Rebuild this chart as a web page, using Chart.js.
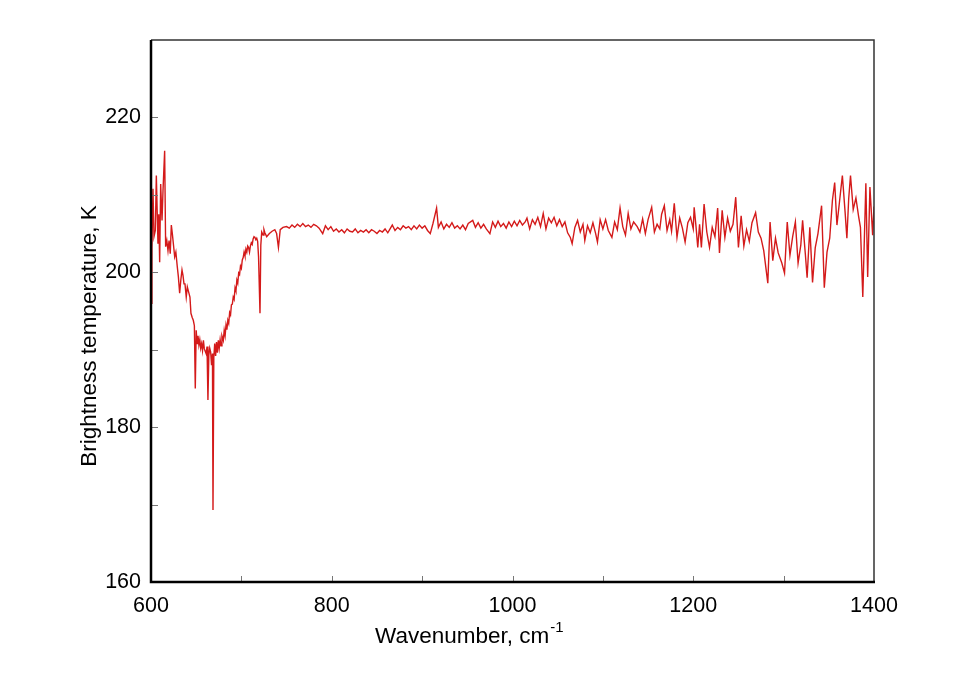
<!DOCTYPE html>
<html>
<head>
<meta charset="utf-8">
<script src="https://cdn.jsdelivr.net/npm/chart.js@4"></script>
<style>
html,body{margin:0;padding:0;background:#fff;}
#wrap{width:960px;height:679px;position:relative;}
</style>
</head>
<body>
<div id="wrap"><canvas id="c" width="960" height="679"></canvas></div>
<script>
const wavenumbers = [600,601,602.2,603.3,604.8,605.9,607.7,608.6,609.6,610.7,612.2,613.3,615.1,616.2,617.5,618.8,620,621.3,622.5,623.6,625,626.2,627.5,629.1,630.3,631.7,633,634.3,635.4,636.5,637.6,639,640.2,641.3,643.1,644.2,645.5,646.8,648,649,650,651,652,653,654,655,656,657,658,659,660,661,662,663,664,665,666,667,668,668.6,669.5,670.5,671.5,672.5,673.5,674.5,675.5,676.5,677.5,678.5,680,681,682,683,684,685,686,687,688,689,690,691,692,693,694,695,696,697,698,699,700,701,702,703,704,705,706,707,708,709,710,711,712,713,714,715,716,717,718,719,720.6,721.5,722.5,724,725,726,728,731,734,737,739,741,743,746,750,753,756,759,762,765,768,771,774,777,780,783,786,790,793,796,799,802,805,808,811,814,817,820,823,826,829,832,835,838,841,844,847,850,853,856,859,862,865,867,870,873,876,879,882,885,888,891,894,897,900,903,906,909,912,916,918,921,924,927,930,933,936,939,942,945,948,951,956,959,962,965,968,971,975,978,981,984,987,990,993,996,999,1002,1005,1008,1011,1014,1016,1019,1022,1025,1028,1031,1034,1037,1040,1043,1046,1049,1052,1055,1058,1061,1064,1066,1069,1072,1075,1078,1080,1083,1086,1089,1092,1094,1097,1100,1103,1106,1110,1113,1116,1119,1122,1125,1128,1131,1134,1138,1141,1144,1147,1150,1154,1157,1160,1163,1165,1168,1171,1174,1176,1179,1182,1185,1188,1191,1194,1197,1200,1201,1203,1205,1207,1209,1212,1215,1218,1221,1224,1227,1229,1232,1235,1238,1241,1244,1247,1250,1253,1256,1259,1262,1265,1269,1272,1275,1278,1282.5,1285,1288,1291,1294,1298,1301,1304,1307,1310,1313,1316,1319,1321,1324,1326,1329,1332,1335,1338,1342,1345,1348,1351,1354,1356.5,1359,1362,1365,1368,1370,1372,1374,1377,1380,1383,1385,1387.6,1391,1393,1395.5,1398.5,1400];
const brightnessTemps = [196,203,210.8,204.6,205.4,212.5,203.7,207.5,201.3,211.4,206.7,210.6,215.7,203.3,204.1,202.8,204.1,202.4,206.1,205,203.4,202,202.6,200.7,199.4,197.3,199,200.3,199.6,198.5,198.5,196.8,198.1,197.6,196.8,194.7,194.2,193.8,193.1,185,192.5,190.8,191.8,190.6,191.3,190.2,190.8,189.9,191.2,190.1,189.8,189.5,190.4,183.5,189.3,190.2,189.7,188,189.5,169.3,189,190.8,189.2,191,189.6,191.2,190.2,191.3,190.5,191.8,191.2,192.5,191.8,193.2,192.6,193.8,193.4,194.8,194.5,195.8,195.9,196.8,196.5,198,197.6,199,198.6,199.9,199.7,200.8,200.5,201.6,201.9,202.6,202.1,203,202.6,203.4,203.2,202.6,203.4,203.8,203.6,204.3,204.6,204.5,204.2,204.4,204,202,194.7,203.5,205.2,204.8,205.5,205.1,204.6,205,205.3,205.5,205,203.2,205.5,205.8,205.9,205.7,206.1,205.8,206.2,205.9,206.3,205.9,206.1,205.8,206.2,206,205.7,205,206,205.5,205.9,205.3,205.6,205.2,205.5,205.1,205.6,205.3,205.2,205.6,205.1,205.4,205.2,205.5,205.1,205.5,205.3,205,205.4,205.2,205.6,205.1,205.7,206.1,205.4,205.8,205.5,206,205.7,205.9,205.5,206,205.6,206.1,205.7,206,205.4,205,206.3,208.3,205.8,206.5,205.6,206.2,205.8,206.4,205.7,206,205.6,206.1,205.5,206.3,206.7,205.8,206.4,205.7,206.2,205.6,205,206.5,205.8,206.6,205.9,206.3,205.7,206.5,205.9,206.6,206,206.7,206.1,206.5,207,205.6,206.8,206.2,207.1,205.9,207.6,205.6,207,206.4,207.1,206,206.8,205.9,206.5,205.1,204.5,203.7,205.8,206.7,205.2,206.2,204.1,206,205.1,206.4,205,203.9,206.8,205.6,206.8,205.4,204.5,206.5,205.5,208.3,205.9,204.8,207.6,205.6,206.5,205.9,205.2,206.9,205,206.8,208.4,205.2,206.2,205.6,207.5,208.6,205.4,206.8,205.3,208.9,204.5,207,205.7,203.9,206.4,207.1,205.6,208.4,206,203.2,206.2,203.2,208.8,205.2,203.2,205.8,204.6,208.3,202.5,208,204.5,207,205.3,206.2,209.7,203.2,207.3,203.4,205.5,204,206.4,207.7,205.2,204.4,202.8,198.6,206.5,201.5,204.4,202.5,201.2,199.9,206.5,202.2,204.6,206.5,201.2,203.5,206.7,202.4,199.3,205.8,198.7,203.2,205,208.6,198,202.6,204.4,209.3,211.6,206.1,209.3,212.5,207.8,204.4,209.5,212.5,208.1,209.6,207.2,205.8,196.8,211.5,199.4,211,204.8,208.5];
const xRange = [600, 1400];
const yRange = [160, 230];
const xTickStep = 100, xLabelStep = 200;
const yTickStep = 10, yLabelStep = 20;
const xTitle = "Wavenumber, cm";
const xTitleSup = "-1";
const yTitle = "Brightness temperature, K";

const points = wavenumbers.map((w, i) => ({x: w, y: brightnessTemps[i]}));
const FONT = "'Liberation Sans', Arial, sans-serif";

const frame = {
  id: 'frame',
  afterDraw(chart) {
    const ctx = chart.ctx, a = chart.chartArea;
    const xs = chart.scales.x, ys = chart.scales.y;
    ctx.save();
    ctx.strokeStyle = '#777';
    ctx.lineWidth = 1;
    xs.ticks.forEach(t => {
      const px = Math.round(xs.getPixelForValue(t.value)) + 0.5;
      if (t.value <= xRange[0] || t.value >= xRange[1]) return;
      ctx.beginPath(); ctx.moveTo(px, a.bottom); ctx.lineTo(px, a.bottom - 6); ctx.stroke();
    });
    ys.ticks.forEach(t => {
      const py = Math.round(ys.getPixelForValue(t.value)) + 0.5;
      if (t.value <= yRange[0] || t.value >= yRange[1]) return;
      ctx.beginPath(); ctx.moveTo(a.left, py); ctx.lineTo(a.left + 7, py); ctx.stroke();
    });
    ctx.strokeStyle = '#333';
    ctx.lineWidth = 1.5;
    ctx.beginPath();
    ctx.moveTo(a.left, a.top); ctx.lineTo(a.right, a.top); ctx.lineTo(a.right, a.bottom);
    ctx.stroke();
    ctx.strokeStyle = '#000';
    ctx.lineWidth = 2.5;
    ctx.beginPath();
    ctx.moveTo(a.left, a.top); ctx.lineTo(a.left, a.bottom); ctx.lineTo(a.right + 1, a.bottom);
    ctx.stroke();
    ctx.fillStyle = '#000';
    ctx.font = "22.5px " + FONT;
    ctx.textBaseline = 'alphabetic';
    ctx.textAlign = 'left';
    ctx.fillText(xTitle, 375, 643);
    const w = ctx.measureText(xTitle).width;
    ctx.font = "15px " + FONT;
    ctx.fillText(xTitleSup, 375 + w + 1, 632);
    ctx.font = "22.5px " + FONT;
    ctx.translate(96, 336);
    ctx.rotate(-Math.PI / 2);
    ctx.textAlign = 'center';
    ctx.fillText(yTitle, 0, 0);
    ctx.restore();
  }
};

new Chart(document.getElementById('c'), {
  type: 'line',
  data: {
    datasets: [{
      data: points,
      borderColor: '#d41a1a',
      borderWidth: 1.4,
      pointRadius: 0,
      tension: 0,
      fill: false
    }]
  },
  options: {
    responsive: false,
    animation: false,
    layout: {padding: {top: 40, right: 86, left: 0, bottom: 0}},
    plugins: {legend: {display: false}, tooltip: {enabled: false}},
    scales: {
      x: {
        type: 'linear',
        min: xRange[0], max: xRange[1],
        afterFit(s) { s.height = 97; },
        border: {display: false},
        grid: {display: false, drawTicks: false},
        ticks: {
          stepSize: xTickStep,
          autoSkip: false,
          maxRotation: 0,
          padding: 11,
          color: '#000',
          font: {family: FONT, size: 21.5},
          callback: v => (v % xLabelStep === 0 ? String(v) : '')
        }
      },
      y: {
        min: yRange[0], max: yRange[1],
        afterFit(s) { s.width = 151; },
        border: {display: false},
        grid: {display: false, drawTicks: false},
        ticks: {
          stepSize: yTickStep,
          autoSkip: false,
          padding: 10,
          color: '#000',
          font: {family: FONT, size: 21.5},
          callback: v => (v % yLabelStep === 0 && v < yRange[1] ? String(v) : '')
        }
      }
    }
  },
  plugins: [frame]
});
</script>
</body>
</html>
